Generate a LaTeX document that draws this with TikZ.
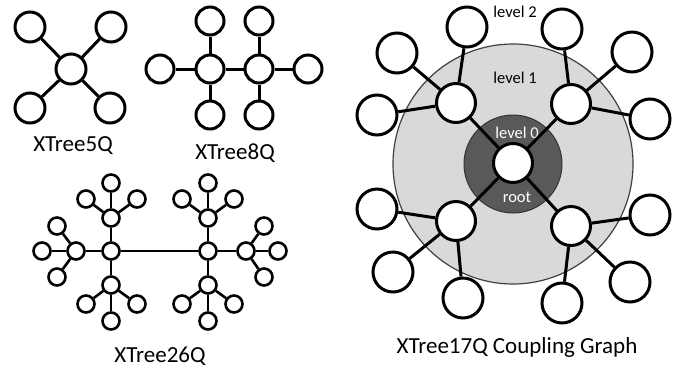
\documentclass[tikz,border=0pt]{standalone}
\usepackage{fontspec}
\setmainfont{Carlito}
\begin{document}
\begin{tikzpicture}[x=1pt,y=-1pt,
  q/.style={circle,draw=black,fill=white,line width=3pt,inner sep=0pt},
  qa/.style={q,minimum size=30pt},
  qb/.style={q,minimum size=28pt},
  qc/.style={q,minimum size=17pt,line width=2.6pt},
  qd/.style={q,minimum size=39pt},
  qe/.style={q,minimum size=40pt},
  link/.style={line width=3pt},
  linkc/.style={line width=2.6pt},
  captext/.style={font=\fontsize{23}{25}\selectfont,inner sep=0pt},
  lvl/.style={font=\fontsize{16.5}{18}\selectfont,inner sep=0pt}]
\useasboundingbox (0,0) rectangle (686,368);
% ---------- XTree5Q ----------
\node[qa] (f0) at (71,69) {};
\node[qa] (f1) at (30,27) {};
\node[qa] (f2) at (111,27) {};
\node[qa] (f3) at (30,108) {};
\node[qa] (f4) at (110,108) {};
\foreach \i in {1,2,3,4} \draw[link] (f0) -- (f\i);
\node[captext] (l5) at (73,146) {XTree5Q};
% ---------- XTree8Q ----------
\node[qb] (e1) at (210,69) {};
\node[qb] (e2) at (259,69) {};
\node[qb] (e1t) at (210,21) {};
\node[qb] (e2t) at (259,21) {};
\node[qb] (e1b) at (210,115) {};
\node[qb] (e2b) at (259,115) {};
\node[qb] (e1l) at (160,69) {};
\node[qb] (e2r) at (308,69) {};
\draw[link] (e1) -- (e2);
\draw[link] (e1) -- (e1t);
\draw[link] (e1) -- (e1b);
\draw[link] (e1) -- (e1l);
\draw[link] (e2) -- (e2t);
\draw[link] (e2) -- (e2b);
\draw[link] (e2) -- (e2r);
\node[captext] (l8) at (235,153) {XTree8Q};
% ---------- XTree26Q ----------
\node[qc] (hL) at (111,251) {};
\node[qc] (hR) at (208,251) {};
\draw[linkc] (hL) -- (hR);
% left hub subtrees
\node[qc] (aU) at (111,218) {};
\node[qc] (aU1) at (111,183) {};
\node[qc] (aU2) at (86,199) {};
\node[qc] (aU3) at (137,199) {};
\node[qc] (aL) at (76,251) {};
\node[qc] (aL1) at (42,251) {};
\node[qc] (aL2) at (57,226) {};
\node[qc] (aL3) at (57,277) {};
\node[qc] (aD) at (111,285) {};
\node[qc] (aD1) at (111,321) {};
\node[qc] (aD2) at (86,304) {};
\node[qc] (aD3) at (137,304) {};
\foreach \s in {U,L,D} {
  \draw[linkc] (hL) -- (a\s);
  \foreach \k in {1,2,3} \draw[linkc] (a\s) -- (a\s\k);
}
% right hub subtrees
\node[qc] (bU) at (208,218) {};
\node[qc] (bU1) at (208,183) {};
\node[qc] (bU2) at (182,199) {};
\node[qc] (bU3) at (234,199) {};
\node[qc] (bR) at (246,251) {};
\node[qc] (bR1) at (278,251) {};
\node[qc] (bR2) at (264,226) {};
\node[qc] (bR3) at (264,277) {};
\node[qc] (bD) at (208,285) {};
\node[qc] (bD1) at (208,321) {};
\node[qc] (bD2) at (182,304) {};
\node[qc] (bD3) at (234,304) {};
\foreach \s in {U,R,D} {
  \draw[linkc] (hR) -- (b\s);
  \foreach \k in {1,2,3} \draw[linkc] (b\s) -- (b\s\k);
}
\node[captext] (l26) at (160,356) {XTree26Q};
% ---------- XTree17Q ----------
\node[circle,draw=black!75,line width=1.2pt,fill=black!15,minimum size=240pt,inner sep=0pt] (ring1) at (513,164) {};
\node[circle,draw=black!80,line width=1pt,fill=black!65,minimum size=98pt,inner sep=0pt] (ring0) at (513,164) {};
\node[lvl] (t2) at (515,12) {level 2};
\node[lvl] (t1) at (515,78) {level 1};
\node[lvl,text=white] (t0) at (517,133) {level 0};
\node[lvl,text=white] (tr) at (517,197) {root};
\node[qd] (r) at (513,163) {};
\node[qd] (m1) at (456,103) {};
\node[qd] (m2) at (571,104) {};
\node[qd] (m3) at (456,221) {};
\node[qd] (m4) at (571,226) {};
\node[qe] (m1a) at (467,27) {};
\node[qe] (m1b) at (397,53) {};
\node[qe] (m1c) at (377,115) {};
\node[qe] (m2a) at (562,29) {};
\node[qe] (m2b) at (632,52) {};
\node[qe] (m2c) at (650,119) {};
\node[qe] (m3a) at (377,209) {};
\node[qe] (m3b) at (393,272) {};
\node[qe] (m3c) at (463,298) {};
\node[qe] (m4a) at (562,303) {};
\node[qe] (m4b) at (630,282) {};
\node[qe] (m4c) at (650,215) {};
\foreach \m in {1,2,3,4} {
  \draw[link] (r) -- (m\m);
  \foreach \k in {a,b,c} \draw[link] (m\m) -- (m\m\k);
}
\node[captext] (l17) at (517,347) {XTree17Q Coupling Graph};
\end{tikzpicture}
\end{document}
